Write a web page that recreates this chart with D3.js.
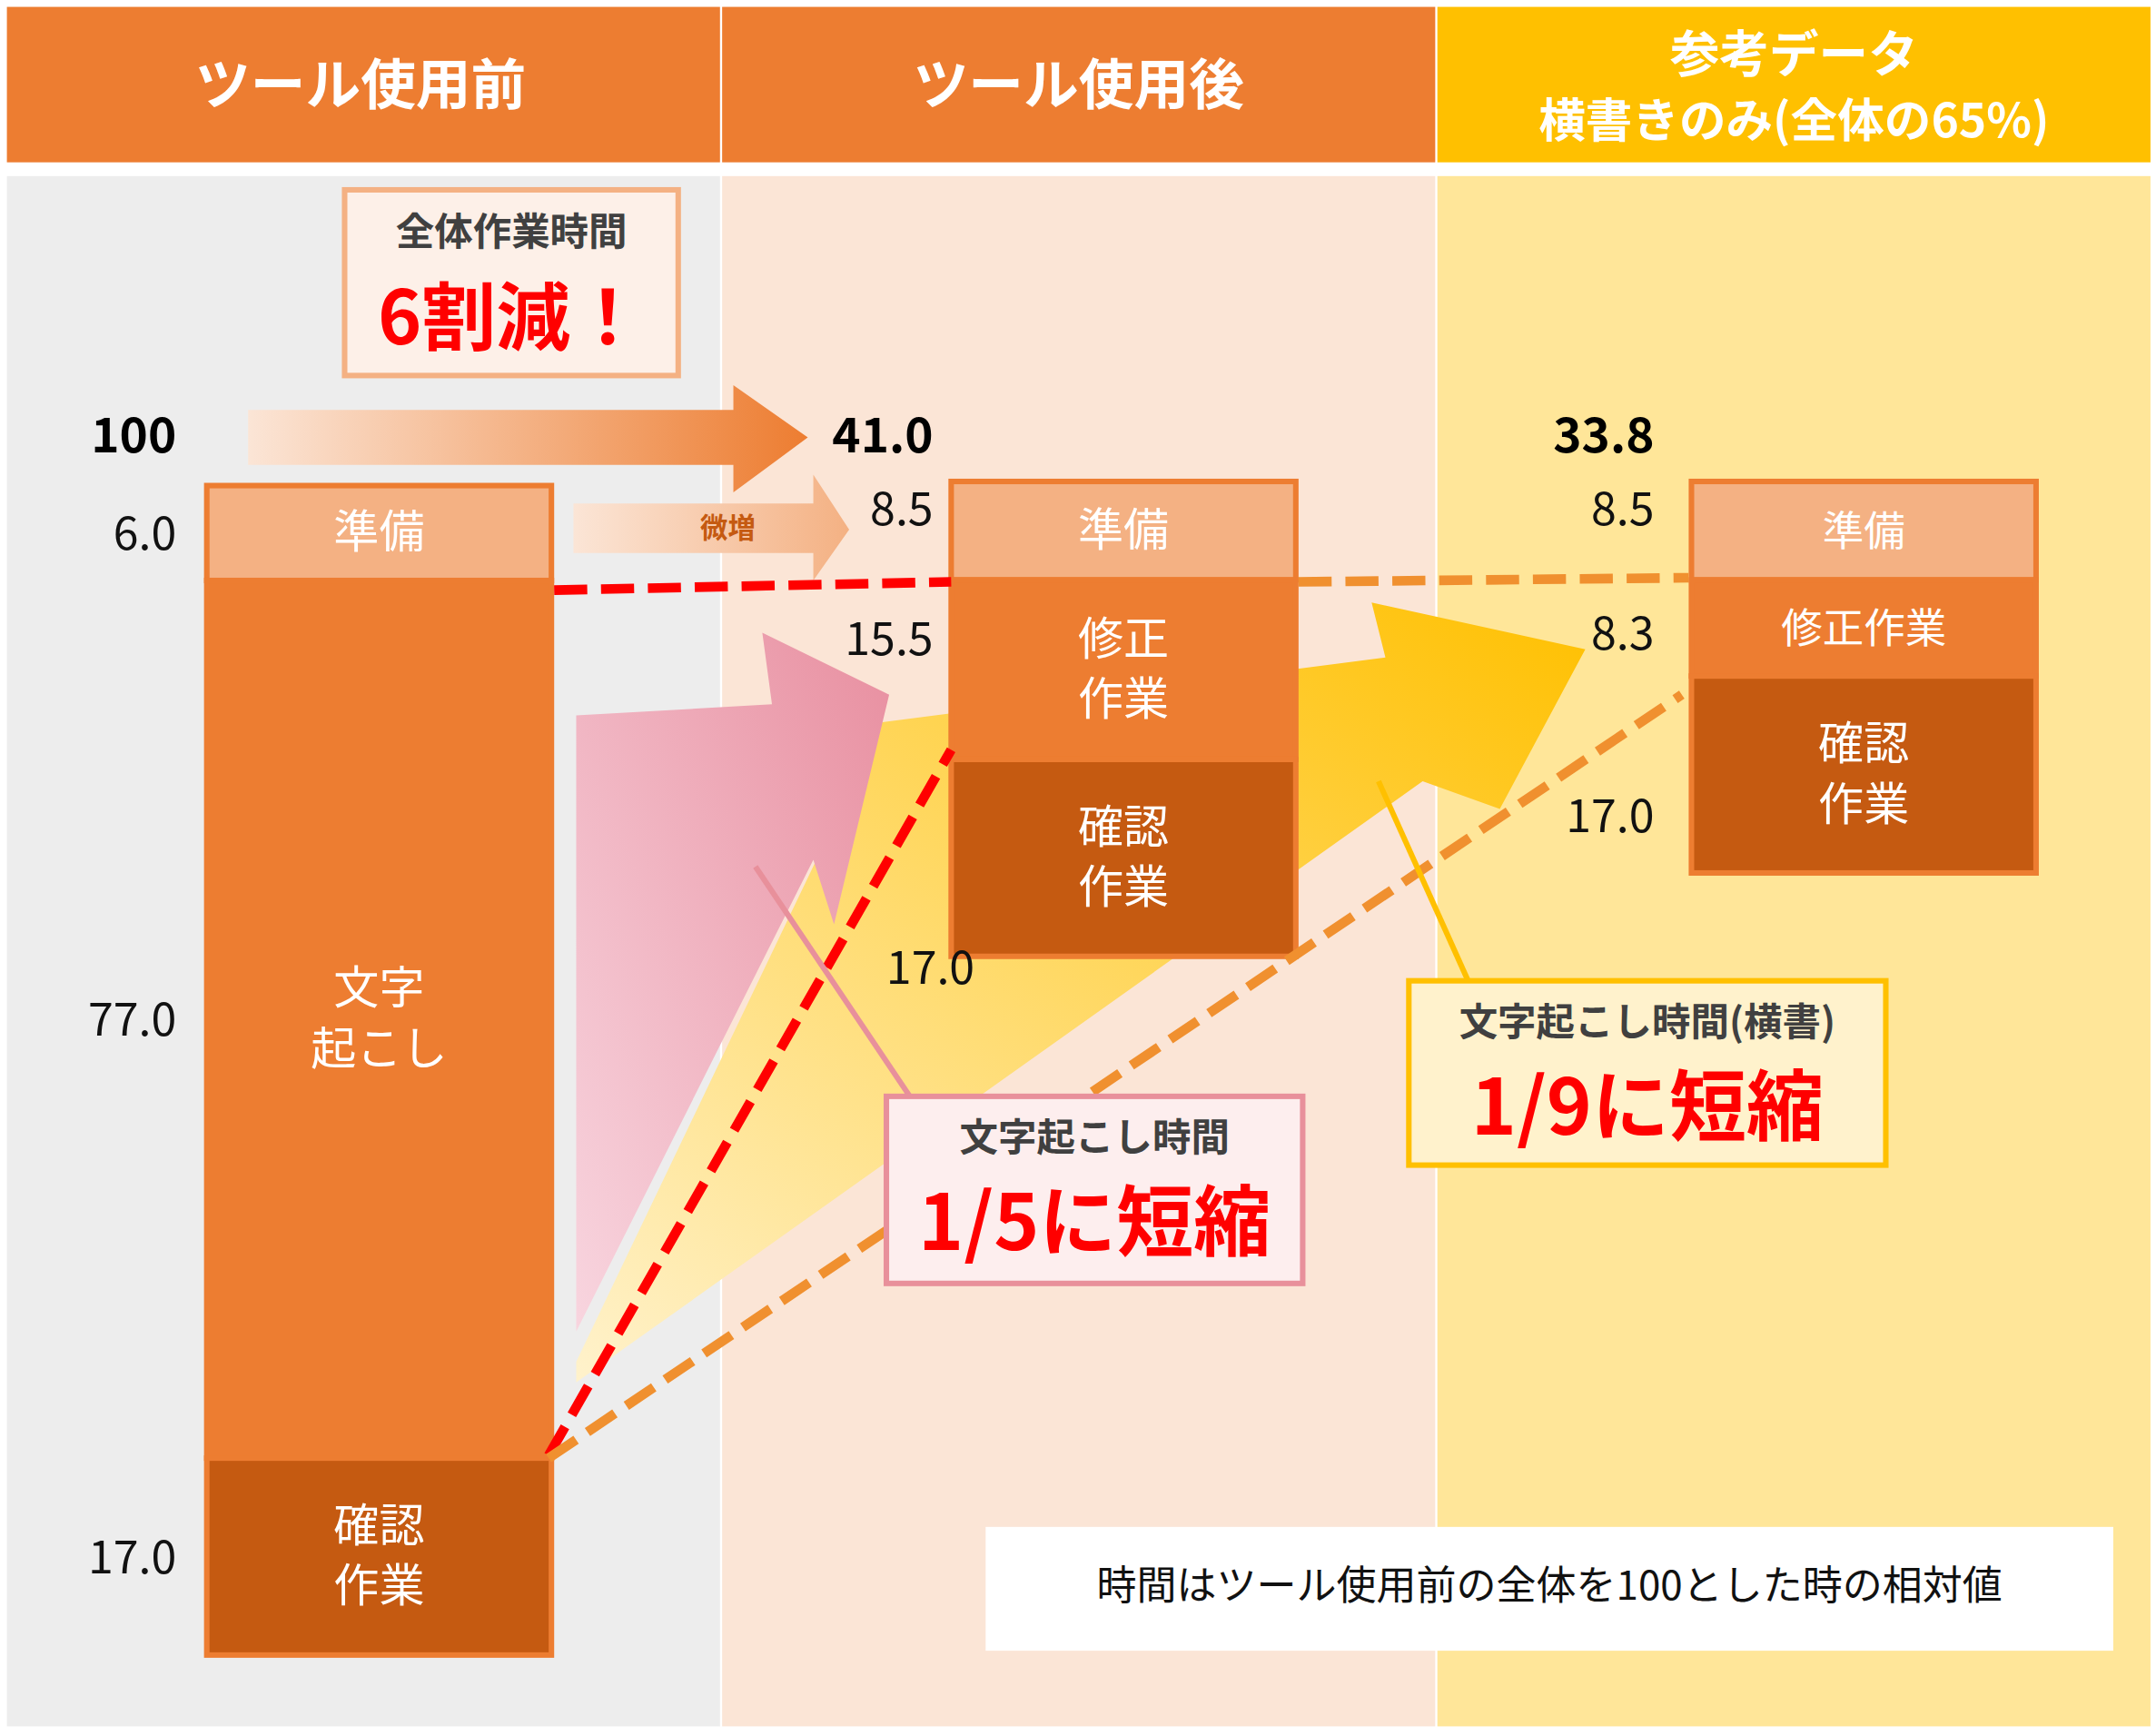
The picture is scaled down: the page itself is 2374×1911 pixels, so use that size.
<!DOCTYPE html>
<html><head><meta charset="utf-8">
<script src="https://cdn.jsdelivr.net/npm/d3@7"></script>
<style>body{margin:0;background:#fff}svg{display:block;font-family:"Noto Sans CJK JP",sans-serif}</style>
</head><body>
<svg id="c" width="2374" height="1911" viewBox="0 0 1564 1262" preserveAspectRatio="none"></svg>
<script>
// data
const columns = ["ツール使用前", "ツール使用後", "参考データ"];
const segNames = [["準備", "文字\n起こし", "確認\n作業"], ["準備", "修正\n作業", "確認\n作業"], ["準備", "修正作業", "確認\n作業"]];
const segValues = [[6.0, 77.0, 17.0], [8.5, 15.5, 17.0], [8.5, 8.3, 17.0]];
const totals = ["100", "41.0", "33.8"];
const segColors = ["#F4B183", "#ED7D31", "#C55A11"];

const svg = d3.select("#c");
const bg = ["#EDEDED", "#FBE5D6", "#FFE699"];
const hd = ["#ED7D31", "#ED7D31", "#FFC000"];
const colX = d3.scaleBand().domain(d3.range(3)).range([5, 1560]).paddingInner(0.003);
const barX = [150, 690, 1227], barW = 250, barTop = [353, 350, 350];
const y = d3.scaleLinear().domain([0, 100]).range([0, 842]);
const lblX = [128, 677, 1200];

const defs = svg.append("defs");
function grad(id, stops, x2 = "100%", y2 = "0%") {
  const g = defs.append("linearGradient").attr("id", id).attr("x1", "0%").attr("y1", y2 === "0%" ? "0%" : "100%").attr("x2", x2).attr("y2", y2 === "0%" ? "0%" : "0%");
  stops.forEach(([o, c]) => g.append("stop").attr("offset", o).attr("stop-color", c));
}
grad("gBig", [["0%", "#FBE5D6"], ["100%", "#ED7D31"]]);
grad("gSmall", [["0%", "#FBE5D6"], ["100%", "#F4B183"]]);
grad("gPink", [["0%", "#F8D5DF"], ["100%", "#E88FA0"]], "100%", "0");
grad("gYel", [["0%", "#FFF2CC"], ["100%", "#FFC000"]], "100%", "0");

// columns
columns.forEach((c, i) => {
  svg.append("rect").attr("x", colX(i)).attr("y", 128).attr("width", colX.bandwidth()).attr("height", 1127).attr("fill", bg[i]);
  svg.append("rect").attr("x", colX(i)).attr("y", 5).attr("width", colX.bandwidth()).attr("height", 113).attr("fill", hd[i]);
});
const ht = (x, yy, t, s) => svg.append("text").attr("x", x).attr("y", yy).attr("text-anchor", "middle").attr("fill", "#fff").attr("font-weight", "bold").attr("font-size", s).text(t);
ht(colX(0) + colX.bandwidth() / 2 - 2, 76, columns[0], 40);
ht(colX(1) + colX.bandwidth() / 2, 76, columns[1], 40);
ht(colX(2) + colX.bandwidth() / 2, 52, columns[2], 36);
ht(colX(2) + colX.bandwidth() / 2, 100, "横書きのみ(全体の65%)", 34);

// arrows
const poly = (pts, fill) => svg.append("polygon").attr("points", pts.map(p => p.join(",")).join(" ")).attr("fill", fill);
poly([[418, 990], [640, 525], [1005, 478], [995, 438], [1150, 472], [1088, 588], [1032, 568], [418, 1005]], "url(#gYel)");
poly([[418, 520], [560, 512], [553, 460], [645, 505], [605, 672], [590, 625], [418, 968]], "url(#gPink)");
poly([[180, 298], [532, 298], [532, 280], [586, 318], [532, 358], [532, 338], [180, 338]], "url(#gBig)");
poly([[416, 366], [590, 366], [590, 345], [616, 385], [590, 422], [590, 402], [416, 402]], "url(#gSmall)");
svg.append("text").attr("x", 528).attr("y", 391).attr("text-anchor", "middle").attr("font-size", 20).attr("font-weight", "bold").attr("fill", "#C55A11").text("微増");

// bars
segValues.forEach((vals, i) => {
  let cum = 0;
  vals.forEach((v, j) => {
    let h = y(v);
    if (i === 0 && j === 0) h = 69; // 準備 is drawn taller in the original
    if (i === 0 && j === 1) h = 638;
    const y0 = barTop[i] + cum;
    cum += h;
    svg.append("rect").attr("x", barX[i]).attr("y", y0).attr("width", barW).attr("height", h)
      .attr("fill", segColors[j]).attr("stroke", "#ED7D31").attr("stroke-width", 4);
    const lines = segNames[i][j].split("\n");
    const t = svg.append("text").attr("text-anchor", "middle").attr("fill", "#fff").attr("font-size", lines.length > 1 || i < 2 ? 33 : 30);
    lines.forEach((l, k) => t.append("tspan").attr("x", barX[i] + barW / 2)
      .attr("y", y0 + h / 2 + 11 + (k - (lines.length - 1) / 2) * 44).text(l));
    const ly = i === 0 ? y0 + h / 2 + 12 : [382, 476, 605][j] + (i === 1 && j === 2 ? 110 : 0) - (i === 2 && j === 1 ? 4 : 0);
    svg.append("text").attr("x", lblX[i] + (i === 1 && j === 2 ? 30 : 0)).attr("y", ly).attr("text-anchor", "end")
      .attr("font-size", 33).attr("fill", "#111").text(v.toFixed(1));
  });
  svg.append("text").attr("x", lblX[i]).attr("y", 329).attr("text-anchor", "end").attr("font-size", 35)
    .attr("font-weight", "bold").attr("fill", "#000").text(totals[i]);
});

// dashed guide lines
const dl = (x1, y1, x2, y2, c) => svg.append("line").attr("x1", x1).attr("y1", y1).attr("x2", x2).attr("y2", y2)
  .attr("stroke", c).attr("stroke-width", 7).attr("stroke-dasharray", "24,10");
dl(402, 429, 690, 423, "#FF0000");
dl(398, 1058, 690, 545, "#FF0000");
dl(942, 423, 1225, 420, "#F0902F");
dl(398, 1060, 1220, 505, "#F0902F");

// callouts
svg.append("line").attr("x1", 548).attr("y1", 630).attr("x2", 662).attr("y2", 800).attr("stroke", "#E8909B").attr("stroke-width", 4);
svg.append("line").attr("x1", 1000).attr("y1", 568).attr("x2", 1065).attr("y2", 713).attr("stroke", "#FFC000").attr("stroke-width", 4);
function box(x, yy, w, h, stroke, fill, t1, t2, s2) {
  svg.append("rect").attr("x", x).attr("y", yy).attr("width", w).attr("height", h).attr("fill", fill).attr("stroke", stroke).attr("stroke-width", 4);
  svg.append("text").attr("x", x + w / 2).attr("y", yy + 40).attr("text-anchor", "middle").attr("font-size", 28).attr("font-weight", "bold").attr("fill", "#404040").text(t1);
  svg.append("text").attr("x", x + w / 2).attr("y", yy + 112).attr("text-anchor", "middle").attr("font-size", s2).attr("font-weight", "bold").attr("fill", "#FF0000").text(t2);
}
box(250, 138, 242, 135, "#F4B183", "#FDF0E8", "全体作業時間", "6割減！", 54);
box(643, 797, 302, 136, "#E8909B", "#FDEEEE", "文字起こし時間", "1/5に短縮", 56);
box(1022, 713, 346, 134, "#FFC000", "#FFF2CC", "文字起こし時間(横書)", "1/9に短縮", 56);

svg.append("rect").attr("x", 715).attr("y", 1110).attr("width", 818).attr("height", 90).attr("fill", "#fff");
svg.append("text").attr("x", 1124).attr("y", 1163).attr("text-anchor", "middle").attr("font-size", 29).attr("fill", "#111")
  .text("時間はツール使用前の全体を100とした時の相対値");
</script>
</body></html>
